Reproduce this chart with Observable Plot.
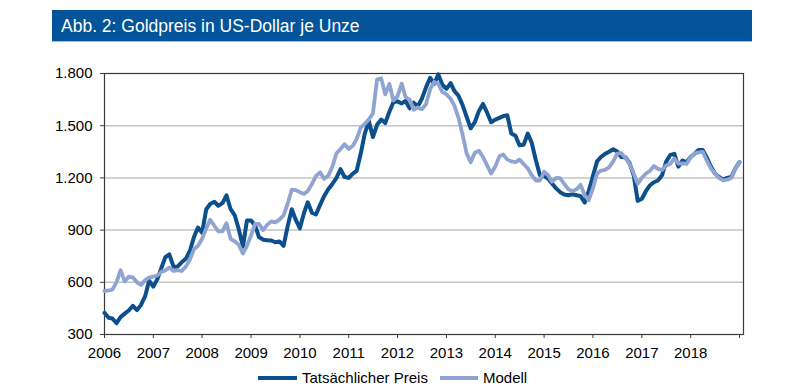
<!DOCTYPE html>
<html>
<head>
<meta charset="utf-8">
<script src="https://cdn.jsdelivr.net/npm/d3@7"></script>
<script src="https://cdn.jsdelivr.net/npm/@observablehq/plot@0.6"></script>
<style>
  html, body { margin: 0; padding: 0; background: #fff; }
  body { width: 804px; height: 390px; position: relative; overflow: hidden; font-family: "Liberation Sans", Arial, sans-serif; }
  #title { position: absolute; left: 52px; top: 10px; width: 700px; height: 31px; background: #03549a; border-bottom: 1px solid #9cc0e4; color: #fff; font-size: 17.5px; line-height: 31px; box-sizing: content-box; }
  #title span { position: absolute; left: 9px; top: 1px; }
  #chart { position: absolute; left: 0; top: 60px; }
  .sw { position: absolute; height: 4px; top: 376px; }
  .lt { position: absolute; top: 369px; font-size: 15px; line-height: 18px; color: #000; white-space: nowrap; }
</style>
</head>
<body>
<div id="title"><span>Abb. 2: Goldpreis in US-Dollar je Unze</span></div>
<div id="chart"></div>
<div class="sw" id="sw1" style="left:258px;width:39px;"></div>
<div class="lt" id="lt1" style="left:302px;"></div>
<div class="sw" id="sw2" style="left:440px;width:38px;"></div>
<div class="lt" id="lt2" style="left:483px;"></div>
<script>
// ---- data (monthly, starting January 2006) ----
const startYear = 2006;
const seriesNames = ["Tatsächlicher Preis", "Modell"];
const seriesColors = ["#0b4f8c", "#8fa4d0"];

const actualPrice = [
  425, 396, 392, 365, 400, 420, 438, 465, 440, 470, 520, 610,
  575, 620, 680, 745, 760, 690, 690, 715, 735, 780, 860, 915,
  885, 1020, 1050, 1063, 1040, 1055, 1100, 1020, 985, 905, 805, 955,
  955, 925, 860, 845, 842, 840, 830, 835, 810, 920, 1020, 960,
  910, 1000, 1060, 1000, 990, 1045, 1095, 1135, 1165, 1200, 1250, 1205,
  1200, 1225, 1240, 1340, 1455, 1525, 1435, 1505, 1535, 1515, 1580, 1635,
  1640, 1628, 1642, 1600, 1632, 1612, 1655, 1720, 1775, 1740, 1795, 1735,
  1712, 1745, 1700, 1672, 1620, 1550, 1485, 1520, 1585, 1625, 1575, 1520,
  1535, 1545, 1555, 1560, 1455, 1442, 1388, 1390, 1455, 1400, 1300, 1215,
  1212, 1195, 1168, 1140, 1118, 1105, 1100, 1106, 1100, 1095, 1058, 1125,
  1210, 1295, 1320, 1338, 1350, 1365, 1352, 1320, 1318, 1285, 1215, 1068,
  1080, 1125, 1156, 1175, 1185, 1215, 1292, 1332, 1338, 1265, 1300, 1290,
  1320, 1340, 1360, 1360, 1318, 1265, 1225, 1205, 1190, 1200, 1205, 1255,
  1290
];

const modelPrice = [
  550, 553, 558, 600, 670, 605, 632, 628, 600, 585, 612, 627,
  632, 640, 660, 668, 685, 665, 670, 665, 690, 730, 790, 810,
  850, 910, 960, 925, 893, 893, 940, 850, 835, 815, 765, 810,
  870, 935, 935, 900, 930, 950, 945, 960, 985, 1050, 1132, 1130,
  1118, 1108, 1125, 1165, 1210, 1232, 1195, 1213, 1265, 1340, 1366, 1394,
  1366, 1385, 1423, 1489, 1510, 1537, 1570, 1765, 1772, 1680, 1740, 1645,
  1670, 1742, 1665, 1650, 1592, 1605, 1595, 1623, 1710, 1752, 1740, 1695,
  1680, 1655, 1615, 1545, 1450, 1340, 1290, 1345, 1356, 1320, 1272, 1225,
  1265, 1325, 1335, 1305, 1295, 1290, 1305, 1280, 1255, 1215, 1185, 1185,
  1235, 1215, 1178, 1200, 1198, 1165, 1135, 1124, 1135, 1160, 1100, 1072,
  1140, 1225, 1242, 1246, 1261, 1295, 1340, 1342, 1315, 1280, 1225, 1166,
  1200, 1225, 1240, 1268, 1252, 1246, 1271, 1280, 1312, 1282, 1284, 1280,
  1318, 1341, 1347, 1350, 1300, 1255, 1225, 1200, 1185, 1190, 1200, 1255,
  1290
];

const yTicks = [300, 600, 900, 1200, 1500, 1800];
const gridValues = [600, 900, 1200, 1500];
const xTickYears = [2006, 2007, 2008, 2009, 2010, 2011, 2012, 2013, 2014, 2015, 2016, 2017, 2018, 2019];
const labeledYears = [2006, 2007, 2008, 2009, 2010, 2011, 2012, 2013, 2014, 2015, 2016, 2017, 2018];

// ---- build table ----
const toRows = (vals) => vals.map((v, i) => ({date: new Date(Date.UTC(startYear, i, 1)), value: v}));
const actualRows = toRows(actualPrice);
const modelRows = toRows(modelPrice);

const de = d3.formatLocale({decimal: ",", thousands: ".", grouping: [3], currency: ["", " €"]});
const fmtY = de.format(",");
const xTickDates = xTickYears.map(y => new Date(Date.UTC(y, 0, 1)));

const chart = Plot.plot({
  width: 804,
  height: 310,
  marginLeft: 104,
  marginRight: 61,
  marginTop: 13,
  marginBottom: 36,
  style: {fontFamily: "'Liberation Sans', Arial, sans-serif", fontSize: "15px", color: "#000", background: "transparent"},
  x: {type: "utc", domain: [new Date(Date.UTC(2006, 0, 1)), new Date(Date.UTC(2019, 0, 31))], label: null},
  y: {domain: [300, 1800], label: null},
  marks: [
    Plot.ruleY(gridValues, {stroke: "#c3c3c3", strokeWidth: 1.5}),
    Plot.frame({stroke: "#3a3a3a", strokeWidth: 1.2}),
    Plot.axisY(yTicks, {tickSize: 4, tickPadding: 8, tickFormat: fmtY, stroke: "#3a3a3a", fontSize: 15, fill: "#000", label: null}),
    Plot.axisX(xTickDates, {tickSize: 4, tickPadding: 9, stroke: "#3a3a3a", fontSize: 15, fill: "#000", label: null,
      tickFormat: d => labeledYears.includes(d.getUTCFullYear()) ? String(d.getUTCFullYear()) : ""}),
    Plot.lineY(actualRows, {x: "date", y: "value", stroke: seriesColors[0], strokeWidth: 4, strokeLinejoin: "round", strokeLinecap: "round"}),
    Plot.lineY(modelRows, {x: "date", y: "value", stroke: seriesColors[1], strokeWidth: 3.8, strokeLinejoin: "round", strokeLinecap: "round"})
  ]
});
document.getElementById("chart").appendChild(chart);

document.getElementById("sw1").style.background = seriesColors[0];
document.getElementById("sw2").style.background = seriesColors[1];
document.getElementById("lt1").textContent = seriesNames[0];
document.getElementById("lt2").textContent = seriesNames[1];
</script>
</body>
</html>
